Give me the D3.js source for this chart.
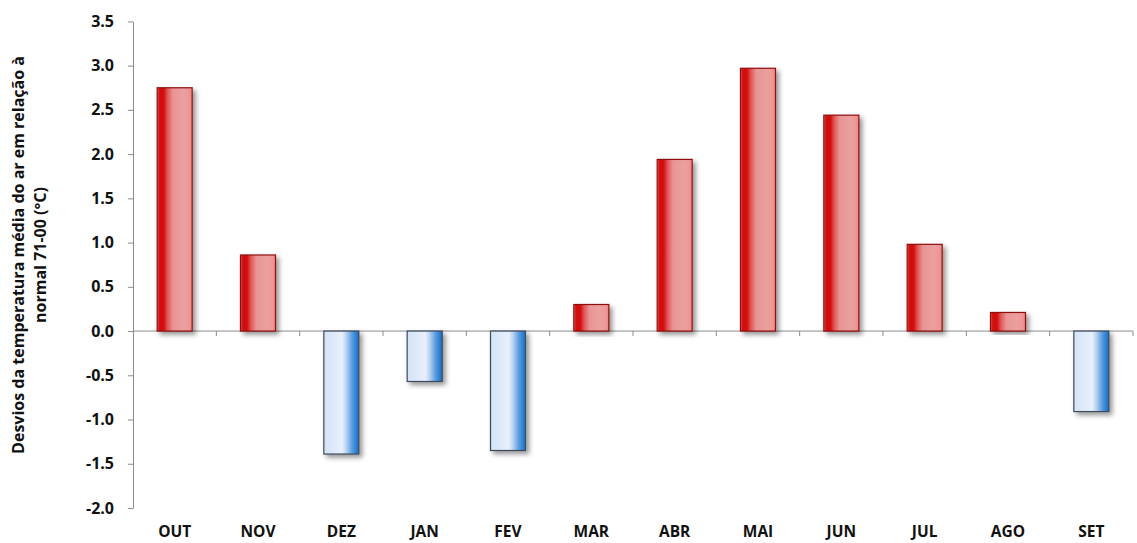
<!DOCTYPE html>
<html>
<head>
<meta charset="utf-8">
<script src="https://cdn.jsdelivr.net/npm/d3@7"></script>
<style>
  html, body { margin: 0; padding: 0; background: #fff; }
  svg { display: block; }
  text { font-family: "Open Sans", "Noto Sans", sans-serif; font-weight: 700; fill: #111; }
</style>
</head>
<body>
<svg id="chart" width="1137" height="543"></svg>
<script>
// Monthly air temperature deviations from the 1971-2000 normal (°C)
const months = ["OUT", "NOV", "DEZ", "JAN", "FEV", "MAR", "ABR", "MAI", "JUN", "JUL", "AGO", "SET"];
const deviations = [2.75, 0.86, -1.39, -0.57, -1.35, 0.30, 1.94, 2.97, 2.44, 0.98, 0.21, -0.91];
const yTicks = [3.5, 3.0, 2.5, 2.0, 1.5, 1.0, 0.5, 0.0, -0.5, -1.0, -1.5, -2.0];
const yTitle = ["Desvios da temperatura média do ar em relação à", "normal 71-00 (°C)"];

const svg = d3.select("#chart");
const plotLeft = 133, plotRight = 1133, plotTop = 21.4, plotBottom = 508;

const x = d3.scaleBand().domain(months).range([plotLeft, plotRight]).paddingInner(0).paddingOuter(0);
const y = d3.scaleLinear().domain([-2, 3.5]).range([plotBottom, plotTop]);

const defs = svg.append("defs");

// warm bars: dark edge, saturated red stripe, fading to soft pink
const gRed = defs.append("linearGradient").attr("id", "gradRed").attr("x1", 0).attr("x2", 1).attr("y1", 0).attr("y2", 0);
[[0, "#e06060"], [0.06, "#d21212"], [0.18, "#d40a0a"], [0.3, "#e05858"], [0.45, "#e99494"], [0.75, "#eaa0a0"], [0.9, "#ee9898"], [1, "#f08484"]]
  .forEach(([o, c]) => gRed.append("stop").attr("offset", o).attr("stop-color", c));

// cool bars: pale blue on the left, deepening to saturated blue at the right
const gBlue = defs.append("linearGradient").attr("id", "gradBlue").attr("x1", 0).attr("x2", 1).attr("y1", 0).attr("y2", 0);
[[0, "#d4e3f6"], [0.3, "#dfeafa"], [0.52, "#e8f0fc"], [0.64, "#b9d3f1"], [0.8, "#5f9fe0"], [0.92, "#2e80d4"], [1, "#1f6fc2"]]
  .forEach(([o, c]) => gBlue.append("stop").attr("offset", o).attr("stop-color", c));

const shadow = defs.append("filter").attr("id", "shadow").attr("x", "-20%").attr("y", "-10%").attr("width", "150%").attr("height", "130%");
shadow.append("feDropShadow").attr("dx", 3).attr("dy", 3).attr("stdDeviation", 2.4)
  .attr("flood-color", "#000").attr("flood-opacity", 0.42);

// y axis (plain hyphen for negatives)
const fmt = d3.format(".1f");
const yAxis = d3.axisLeft(y).tickValues(yTicks).tickFormat(d => fmt(d).replace("\u2212", "-")).tickSize(5).tickSizeOuter(0);
const gy = svg.append("g").attr("transform", `translate(${plotLeft},0)`).call(yAxis);
gy.select(".domain").attr("stroke", "#8c8c8c");
gy.selectAll(".tick line").attr("stroke", "#8c8c8c");
gy.selectAll(".tick text").attr("x", -19)
  .style("font-size", "16px").style("font-family", "'Open Sans', 'Noto Sans', sans-serif")
  .style("font-weight", 700).attr("fill", "#111");

// zero baseline with category separators
const gx = svg.append("g").attr("transform", `translate(0,${y(0)})`);
gx.append("line").attr("x1", plotLeft).attr("x2", plotRight).attr("stroke", "#8c8c8c");
gx.selectAll("line.sep").data(months.slice(1).concat(["_end"])).enter().append("line")
  .attr("class", "sep")
  .attr("x1", (d, i) => plotLeft + (i + 1) * x.bandwidth())
  .attr("x2", (d, i) => plotLeft + (i + 1) * x.bandwidth())
  .attr("y1", 0).attr("y2", 5).attr("stroke", "#8c8c8c");

// bars
const barW = x.bandwidth() * 0.42;
svg.append("g").selectAll("rect").data(months.map((m, i) => ({ m, v: deviations[i] }))).enter().append("rect")
  .attr("x", d => x(d.m) + (x.bandwidth() - barW) / 2)
  .attr("y", d => y(Math.max(0, d.v)))
  .attr("width", barW)
  .attr("height", d => Math.abs(y(d.v) - y(0)))
  .attr("fill", d => d.v >= 0 ? "url(#gradRed)" : "url(#gradBlue)")
  .attr("stroke", d => d.v >= 0 ? "#8e1010" : "#3c4a5c")
  .attr("stroke-width", 1.2)
  .attr("filter", "url(#shadow)");

// month labels along the bottom
svg.append("g").selectAll("text").data(months).enter().append("text")
  .attr("x", d => x(d) + x.bandwidth() / 2)
  .attr("y", 537)
  .attr("text-anchor", "middle")
  .style("font-size", "15.5px")
  .text(d => d);

// y title (two rotated lines)
const title = svg.append("text")
  .attr("transform", "translate(0,255) rotate(-90)")
  .attr("text-anchor", "middle")
  .style("font-size", "16px");
title.append("tspan").attr("x", 0).attr("y", 24).text(yTitle[0]);
title.append("tspan").attr("x", 0).attr("y", 46).text(yTitle[1]);
</script>
</body>
</html>
